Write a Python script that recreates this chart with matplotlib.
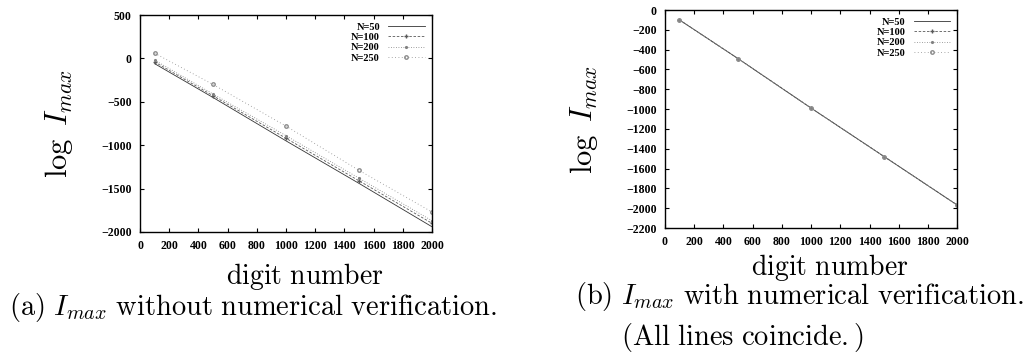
import matplotlib
matplotlib.use("Agg")
import matplotlib.pyplot as plt

plt.rcParams['mathtext.fontset'] = 'cm'

# --- data ---
digits = [100, 500, 1000, 1500, 2000]
labels = ["N=50", "N=100", "N=200", "N=250"]

# (a) without numerical verification
raw_n50 = [-60, -450, -950, -1440, -1940]
raw_n100 = [-40, -430, -920, -1410, -1900]
raw_n200 = [-20, -410, -890, -1380, -1870]
raw_n250 = [60, -300, -780, -1290, -1770]

# (b) with numerical verification (all lines coincide)
ver_n50 = [-100, -490, -990, -1480, -1970]
ver_n100 = [-100, -490, -990, -1480, -1970]
ver_n200 = [-100, -490, -990, -1480, -1970]
ver_n250 = [-100, -490, -990, -1480, -1970]

styles = [
    dict(linestyle="-", color="0.2", lw=0.6),
    dict(linestyle=(0, (3, 2)), color="0.35", lw=0.6, marker="+", ms=3),
    dict(linestyle=(0, (1, 2)), color="0.5", lw=0.6, marker=".", ms=2.5),
    dict(linestyle=(0, (1, 3)), color="0.55", lw=0.6, marker="o", ms=2.5, mfc="none"),
]

tick_font = dict(family="Liberation Serif", size=8.5, weight="bold")

fig = plt.figure(figsize=(10.34, 3.58), dpi=100)
axa = fig.add_axes([0.1354, 0.352, 0.2824, 0.606])
axb = fig.add_axes([0.643, 0.363, 0.283, 0.609])


def style_axes(ax, yticks, xlab_y):
    ax.set_xlim(0, 2000)
    ax.set_xticks(range(0, 2001, 200))
    ax.set_yticks(yticks)
    ax.tick_params(direction="in", top=True, right=True, length=3, width=0.8, pad=6)
    for lab in ax.get_xticklabels() + ax.get_yticklabels():
        lab.set_fontproperties(tick_font)
    for s in ax.spines.values():
        s.set_linewidth(1.0)
    ax.set_ylabel(r"$\log\ I_{max}$", fontsize=22)
    ax.yaxis.set_label_coords(-0.222, 0.5)
    ax.set_xlabel(r"$\mathrm{digit\ number}$", fontsize=20)
    ax.xaxis.set_label_coords(0.565, xlab_y)
    ax.xaxis.label.set_va("center")
    ax.legend(loc="upper right", frameon=False, markerfirst=False,
              prop=dict(family="Liberation Serif", size=7.5, weight="bold"),
              handlelength=3.5, labelspacing=0.1, borderaxespad=0.3)


for vals, lab, st in zip([raw_n50, raw_n100, raw_n200, raw_n250], labels, styles):
    axa.plot(digits, vals, label=lab, **st)
axa.set_ylim(-2000, 500)
style_axes(axa, range(-2000, 501, 500), -0.205)

for vals, lab, st in zip([ver_n50, ver_n100, ver_n200, ver_n250], labels, styles):
    axb.plot(digits, vals, label=lab, **st)
axb.set_ylim(-2200, 0)
style_axes(axb, range(-2200, 1, 200), -0.179)

fig.text(0.245, 0.142, r"$\mathrm{(a)}\ I_{max}\ \mathrm{without\ numerical\ verification.}$",
         ha="center", va="center", fontsize=20.5)
fig.text(0.556, 0.173, r"$\mathrm{(b)}\ I_{max}\ \mathrm{with\ numerical\ verification.}$",
         ha="left", va="center", fontsize=20.5)
fig.text(0.601, 0.058, r"$\mathrm{(All\ lines\ coincide.)}$",
         ha="left", va="center", fontsize=20.5)

fig.savefig("out.png", dpi=100)
